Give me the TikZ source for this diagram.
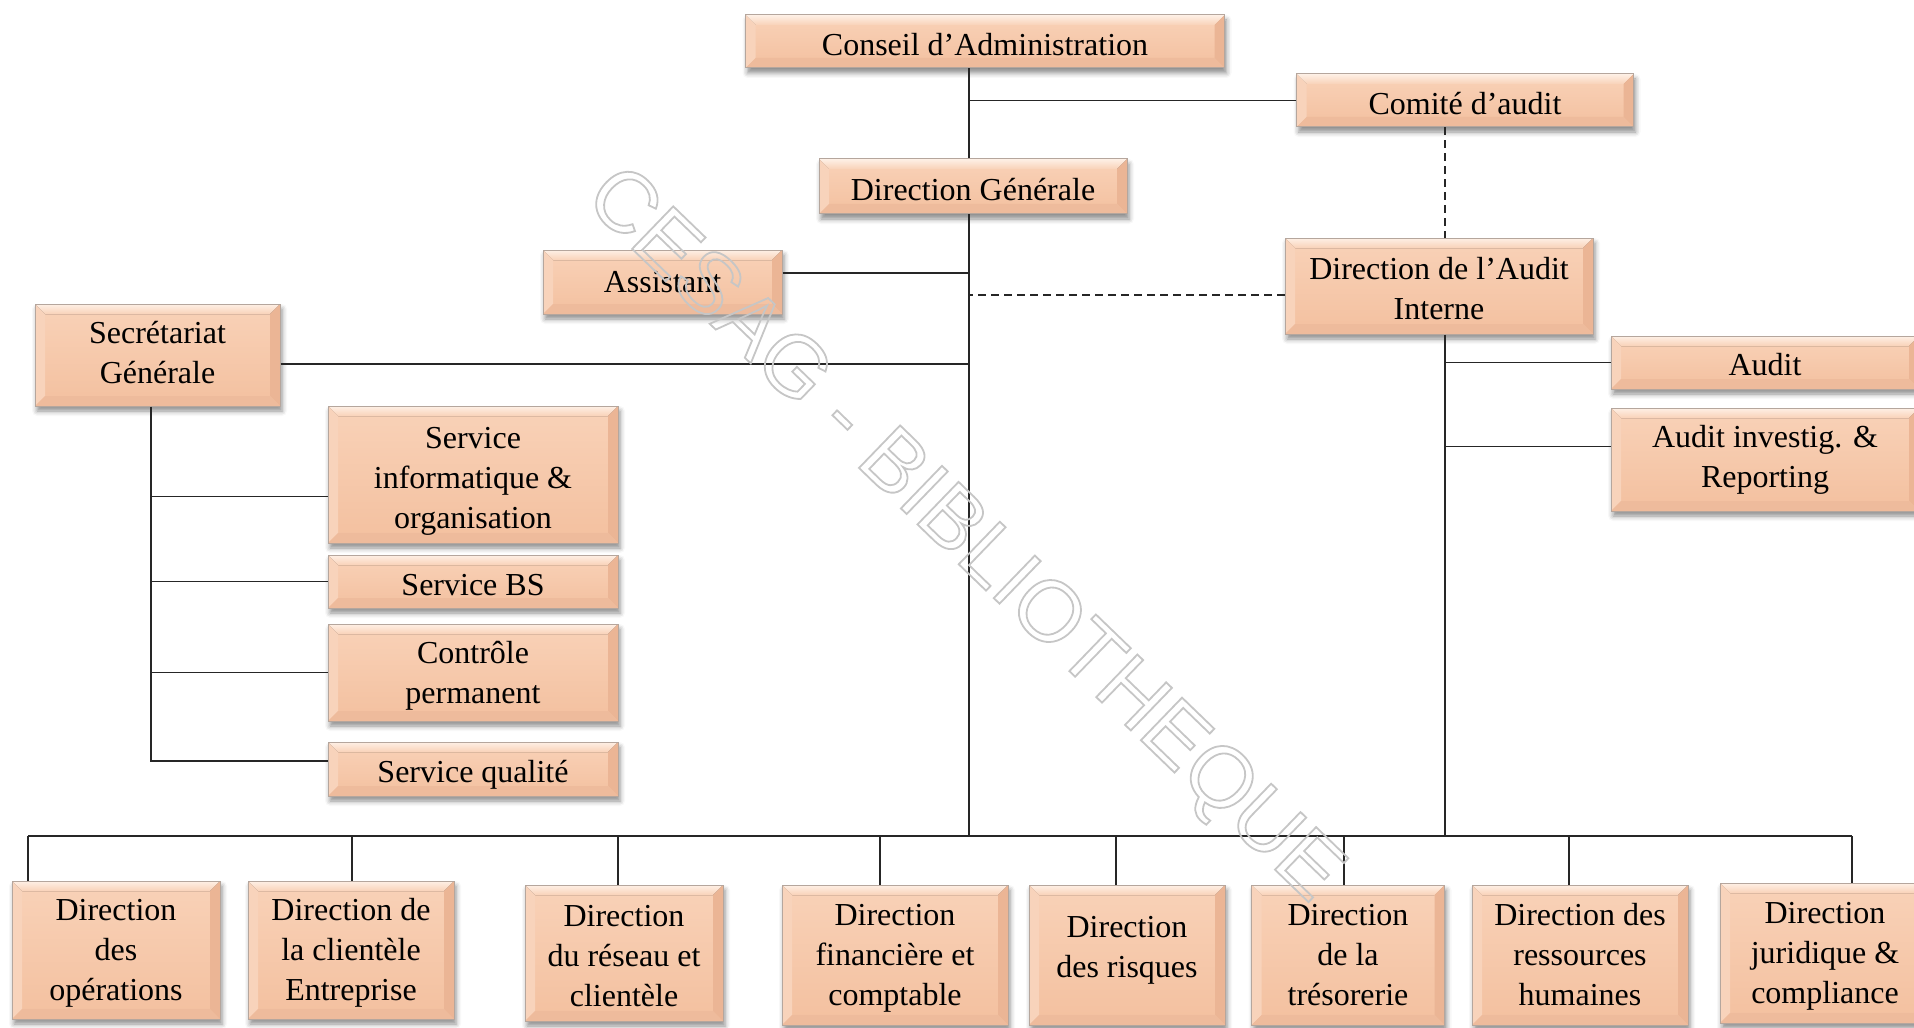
\documentclass[tikz,border=0pt]{standalone}
\usepackage{fontspec}
\setmainfont{Liberation Serif}
\newfontfamily\wmfont{Liberation Sans}
\usetikzlibrary{shadows.blur}

\definecolor{boxtop}{HTML}{F9D2B8}
\definecolor{boxbot}{HTML}{F3C09F}
\definecolor{bevlight}{HTML}{FEF0E6}
\definecolor{bevleft}{HTML}{F8D3BB}
\definecolor{bevright}{HTML}{EBB595}
\definecolor{bevbottom}{HTML}{EEBB9C}
\definecolor{boxedge}{HTML}{B5A69D}
\definecolor{wmgray}{HTML}{C6C6C6}

% invisible struts that set a label's top and bottom extent
\newcommand\lbtop[1]{\rule{0pt}{#1}}
\newcommand\lbbot[1]{\rule[-#1]{0pt}{0pt}}

% bevelled frame drawn inside every box
\newcommand\bevels{%
  \coordinate (bNW) at (path picture bounding box.north west);
  \coordinate (bNE) at (path picture bounding box.north east);
  \coordinate (bSW) at (path picture bounding box.south west);
  \coordinate (bSE) at (path picture bounding box.south east);
  \fill[top color=bevlight, bottom color=boxtop]
    (bNW) -- (bNE) -- ([shift={(-5pt,-5pt)}]bNE) -- ([shift={(5pt,-5pt)}]bNW) -- cycle;
  \fill[bevleft]
    (bNW) -- ([shift={(5pt,-5pt)}]bNW) -- ([shift={(5pt,5pt)}]bSW) -- (bSW) -- cycle;
  \fill[bevright]
    (bNE) -- (bSE) -- ([shift={(-5pt,5pt)}]bSE) -- ([shift={(-5pt,-5pt)}]bNE) -- cycle;
  \fill[bevbottom]
    (bSW) -- ([shift={(5pt,5pt)}]bSW) -- ([shift={(-5pt,5pt)}]bSE) -- (bSE) -- cycle;
}

\tikzset{
  orgbox/.style 2 args={draw=boxedge, line width=0.5pt,
    top color=boxtop, bottom color=boxbot,
    minimum width=#1*0.5pt, minimum height=#2*0.5pt, inner sep=0pt,
    align=center, font=\fontsize{16}{20}\selectfont,
    blur shadow={shadow xshift=1pt, shadow yshift=-2.5pt,
      shadow blur radius=2.5pt, shadow opacity=45},
    path picture={\bevels}},
  link/.style={draw=black!85, line width=0.75pt},
  dashlink/.style={link, dash pattern=on 4pt off 2.5pt},
}

\begin{document}
\begin{tikzpicture}[x=0.5pt, y=-0.5pt]
\useasboundingbox (0,0) rectangle (1914,1027);
\clip (0,0) rectangle (1914,1027);

% junction points on the connector network
\coordinate (bus) at (969,836);
\coordinate (aix) at (1445,836);
\coordinate (sgx) at (151,760);
\coordinate (j1) at (28,836);
\coordinate (j2) at (352,836);
\coordinate (j3) at (618,836);
\coordinate (j4) at (880,836);
\coordinate (j5) at (1116,836);
\coordinate (j6) at (1344,836);
\coordinate (j7) at (1569,836);
\coordinate (j8) at (1852,836);

% boxes
\node[orgbox={479}{53}] (ca) at (985,41.5) {\lbtop{14pt}Conseil d’Administration};
\node[orgbox={337}{53}] (comite) at (1465,100.5) {\lbtop{14pt}Comité d’audit};
\node[orgbox={308}{55}] (dg) at (973,186.5) {\lbtop{14pt}Direction Générale};
\node[orgbox={239}{64}] (asst) at (662.5,282) {Assistant};
\node[orgbox={308}{96}] (dai) at (1439,286) {\lbtop{14pt}Direction de l’Audit\\Interne};
\node[orgbox={245}{102}] (sec) at (157.5,355) {Secrétariat\\Générale\lbbot{3pt}};
\node[orgbox={290}{137}] (sinf) at (473,474.5) {\lbtop{17pt}Service\\informatique \&\\organisation};
\node[orgbox={290}{53}] (sbs) at (473,581.5) {\lbtop{14pt}Service BS};
\node[orgbox={290}{97}] (cp) at (473,672.5) {\lbtop{14pt}Contrôle\\permanent};
\node[orgbox={290}{54}] (sq) at (473,769) {\lbtop{17pt}Service qualité};
\node[orgbox={308}{53}] (audit) at (1765,362.5) {\lbtop{13pt}Audit};
\node[orgbox={308}{103}] (aip) at (1765,459.5) {Audit investig. \&\\Reporting};

\node[orgbox={208}{138}] (d1) at (116,950) {\lbtop{14pt}Direction\\des\\opérations};
\node[orgbox={206}{138}] (d2) at (351,950) {\lbtop{14pt}Direction de\\la clientèle\\Entreprise};
\node[orgbox={198}{136}] (d3) at (624,953) {\lbtop{14pt}Direction\\du réseau et\\clientèle};
\node[orgbox={226}{140}] (d4) at (895,955) {\lbtop{14pt}Direction\\financière et\\comptable};
\node[orgbox={196}{140}] (d5) at (1127,955) {Direction\\des risques\lbbot{8.5pt}};
\node[orgbox={193}{140}] (d6) at (1348,955) {Direction\\de la\\trésorerie};
\node[orgbox={216}{140}] (d7) at (1580,955) {Direction des\\ressources\\humaines};
\node[orgbox={210}{140}] (d8) at (1825,953) {\lbtop{14pt}Direction\\juridique \&\\compliance};

% connectors
\draw[link] (ca.south -| bus) -- (dg.north -| bus);
\draw[link] (dg.south -| bus) -- (bus);
\draw[link] (comite.west) -- (comite.west -| bus);
\draw[link] ([yshift=4.5pt]asst.east) -- ([yshift=4.5pt]asst.east -| bus);
\draw[link] ([yshift=-4.5pt]sec.east) -- ([yshift=-4.5pt]sec.east -| bus);
\draw[dashlink] ([yshift=-4.5pt]dai.west) -- ([yshift=-4.5pt]dai.west -| bus);
\draw[dashlink] (comite.south -| aix) -- (dai.north -| aix);
\draw[link] (dai.south -| aix) -- (aix);
\draw[link] (audit.west) -- (audit.west -| aix);
\draw[link] ([yshift=6.5pt]aip.west) -- ([yshift=6.5pt]aip.west -| aix);

\draw[link] (sec.south -| sgx) |- ([yshift=4pt]sq.west);
\draw[link] ([yshift=-11pt]sinf.west) -- ([yshift=-11pt]sinf.west -| sgx);
\draw[link] (sbs.west) -- (sbs.west -| sgx);
\draw[link] (cp.west) -- (cp.west -| sgx);

\draw[link] (j1) -- (j8);
\draw[link] (j1) -- (j1 |- d1.north);
\draw[link] (j2) -- (j2 |- d2.north);
\draw[link] (j3) -- (j3 |- d3.north);
\draw[link] (j4) -- (j4 |- d4.north);
\draw[link] (j5) -- (j5 |- d5.north);
\draw[link] (j6) -- (j6 |- d6.north);
\draw[link] (j7) -- (j7 |- d7.north);
\draw[link] (j8) -- (j8 |- d8.north);

% watermark, outlined letters
\node[rotate=-44, text=wmgray, inner sep=0pt,
      font=\wmfont\fontsize{43}{43}\selectfont] (wm) at (962,537)
  {\special{pdf:literal direct 1 Tr 0.9 w}CESAG - BIBLIOTHEQUE\special{pdf:literal direct 0 Tr}};
\end{tikzpicture}
\end{document}
